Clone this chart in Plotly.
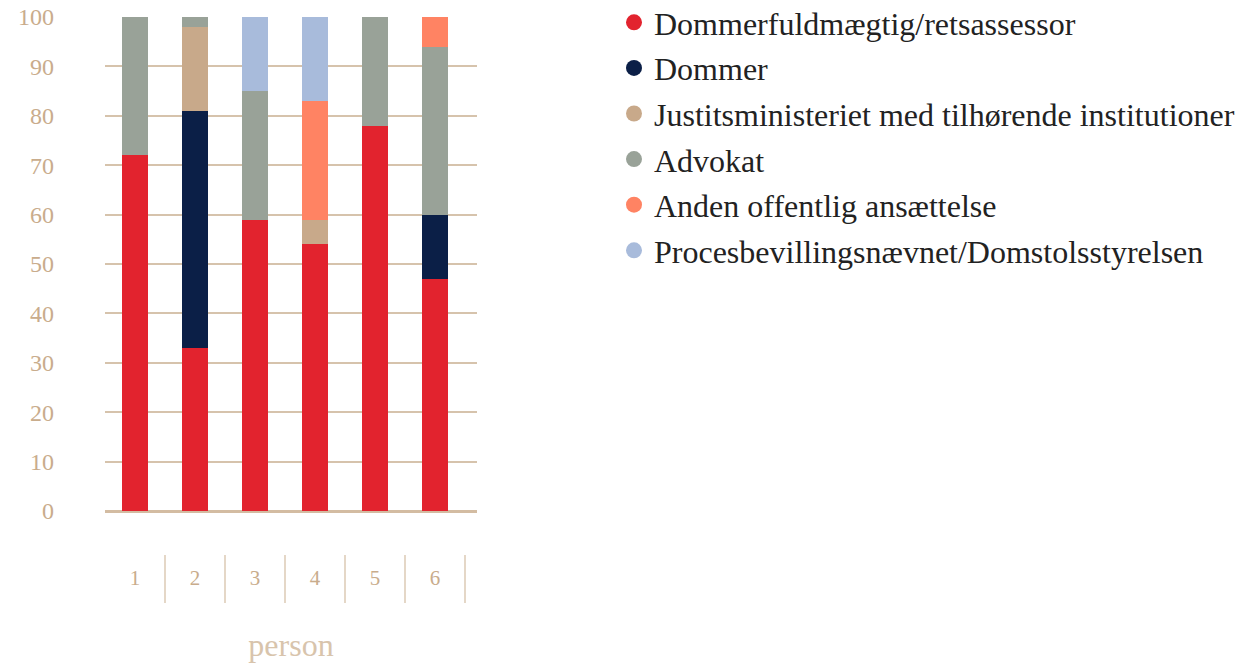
import plotly.graph_objects as go

persons = [1, 2, 3, 4, 5, 6]
tick_labels = ["1", "2", "3", "4", "5", "6"]

series_names = [
    "Dommerfuldmægtig/retsassessor",
    "Dommer",
    "Justitsministeriet med tilhørende institutioner",
    "Advokat",
    "Anden offentlig ansættelse",
    "Procesbevillingsnævnet/Domstolsstyrelsen",
]
dommerfuldmaegtig = [72, 33, 59, 54, 78, 47]
dommer = [0, 48, 0, 0, 0, 13]
justits = [0, 17, 0, 5, 0, 0]
advokat = [28, 2, 26, 0, 22, 34]
anden = [0, 0, 0, 24, 0, 6]
proces = [0, 0, 15, 17, 0, 0]

colors = ["#E2232E", "#0B1F47", "#C8A98A", "#99A298", "#FF8363", "#A8BBDB"]
values = [dommerfuldmaegtig, dommer, justits, advokat, anden, proces]

fig = go.Figure()
for i, (name, vals, col) in enumerate(zip(series_names, values, colors)):
    fig.add_trace(go.Bar(
        x=persons, y=vals, name=name, marker=dict(color=col, line=dict(width=0)),
        showlegend=False, legendgroup=f"g{i}",
    ))
    fig.add_trace(go.Scatter(
        x=[None], y=[None], mode="markers", name=name, legendgroup=f"g{i}",
        marker=dict(symbol="circle", size=18, color=col),
    ))

tick_col = "#C9AC8C"
grid_col = "#D6C3AC"

W, H = 1254, 663
L, T = 105, 17
B = H - 511
R = 20
pw = W - L - R
ph = H - T - B

# divider lines between x tick labels
for k in range(len(persons)):
    fig.add_shape(type="line", xref="x", yref="paper",
                  x0=persons[k] + 0.5, x1=persons[k] + 0.5,
                  y0=-(555 - 511) / ph, y1=-(603 - 511) / ph,
                  line=dict(color="#D3BCA2", width=1.2))

fig.update_layout(
    width=W, height=H,
    margin=dict(l=L, r=R, t=T, b=B, autoexpand=False),
    paper_bgcolor="white", plot_bgcolor="white",
    barmode="stack", bargap=0.58,
    font=dict(family="Liberation Serif", color=tick_col),
    legend=dict(
        x=(614 - L) / pw, y=1 + 22 / ph, xanchor="left", yanchor="top",
        font=dict(size=32, color="#222222", family="Liberation Serif"),
        tracegroupgap=1, itemsizing="trace", bgcolor="rgba(0,0,0,0)",
    ),
    xaxis=dict(
        domain=[0, 372 / pw], automargin=False,
        range=[0.5, 6.7], tickvals=persons, ticktext=tick_labels,
        showgrid=False, zeroline=False, showline=False, ticks="",
        tickfont=dict(size=21, color=tick_col), ticklabelstandoff=52,
        title=dict(text="person", font=dict(size=32, color="#D8C4AC"), standoff=53),
    ),
    yaxis=dict(
        automargin=False, ticklabeloverflow="allow",
        range=[0, 100], tickvals=[0, 10, 20, 30, 40, 50, 60, 70, 80, 90, 100],
        showgrid=True, gridcolor=grid_col, gridwidth=1.5,
        zeroline=True, zerolinecolor="#D3BCA2", zerolinewidth=2.5,
        showline=False, ticks="",
        tickfont=dict(size=24, color=tick_col), ticklabelstandoff=50,
    ),
)

fig.write_html("out.html", config={"displayModeBar": False},
               post_script="document.body.style.margin='0';")
